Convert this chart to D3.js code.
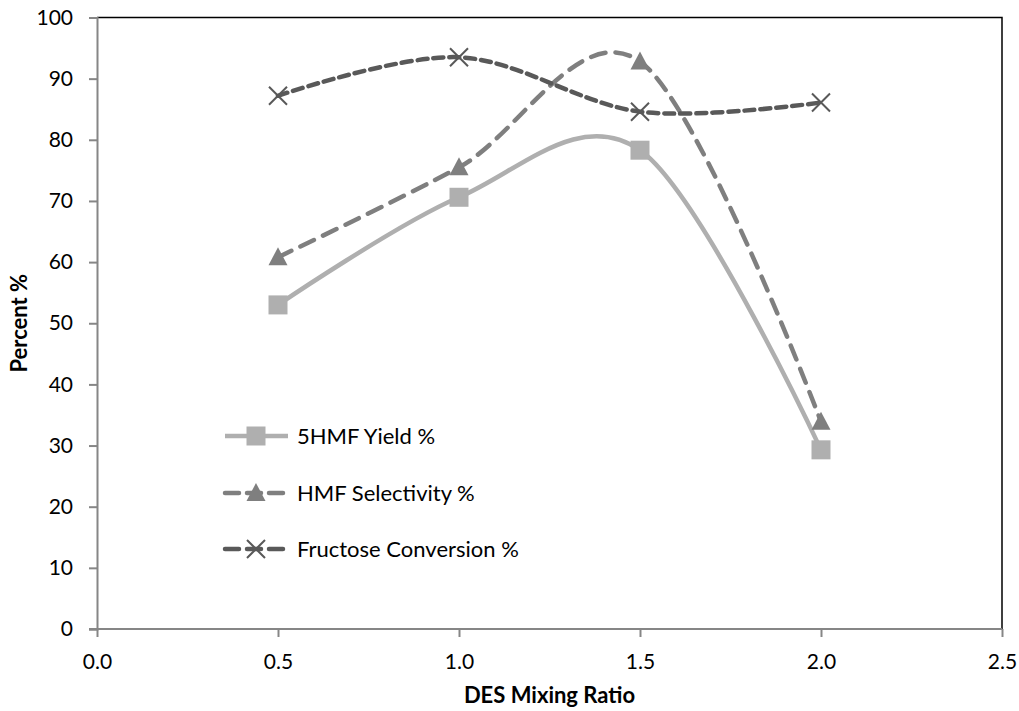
<!DOCTYPE html>
<html>
<head>
<meta charset="utf-8">
<script src="https://cdn.jsdelivr.net/npm/d3@7"></script>
<style>
  body { margin: 0; background: #fff; }
  text { font-family: Lato, "Open Sans", sans-serif; }
</style>
</head>
<body>
<div id="chart"></div>
<script>
// DES mixing ratio chart

const ratios = [0.5, 1.0, 1.5, 2.0];
const yieldVals = [53.0, 70.6, 78.3, 29.3];
const selectivityVals = [60.8, 75.5, 92.8, 33.9];
const conversionVals = [87.2, 93.5, 84.6, 86.1];
const seriesNames = ["5HMF Yield %", "HMF Selectivity %", "Fructose Conversion %"];
const xTicks = [0, 0.5, 1.0, 1.5, 2.0, 2.5];
const yTicks = [0, 10, 20, 30, 40, 50, 60, 70, 80, 90, 100];

const width = 1019,
      height = 711,
      margin = ({ top: 17.5, right: 17, bottom: 82, left: 97 });

const series = [
    { name: seriesNames[0], values: yieldVals, color: "#afafaf", dash: null, marker: "square" },
    { name: seriesNames[1], values: selectivityVals, color: "#7f7f7f", dash: "15,10", marker: "triangle" },
    { name: seriesNames[2], values: conversionVals, color: "#595959", dash: "10,6", marker: "x" }
];

let svg = d3.select("#chart")
    .append("svg")
    .attr("width", width)
    .attr("height", height);

let x = d3.scaleLinear()
    .domain([0, 2.5])
    .range([margin.left, width - margin.right]);

let y = d3.scaleLinear()
    .domain([0, 100])
    .range([height - margin.bottom, margin.top]);

// plot area border (top & right)
svg.append("path")
    .attr("d", `M${x(0)},${y(100)}H${x(2.5)}V${y(0)}`)
    .attr("fill", "none")
    .attr("stroke", "#000")
    .attr("stroke-width", 1.5);

// axes
let yAxis = svg.append("g")
    .attr("transform", `translate(${x(0)},0)`)
    .call(d3.axisLeft(y).tickValues(yTicks).tickSize(8).tickPadding(16).tickFormat(d3.format("d")));

let xAxis = svg.append("g")
    .attr("transform", `translate(0,${y(0)})`)
    .call(d3.axisBottom(x).tickValues(xTicks).tickSize(8).tickPadding(17).tickFormat(d3.format(".1f")));

[xAxis, yAxis].forEach(ax => {
    ax.select(".domain").attr("stroke", "#868686").attr("stroke-width", 2);
    ax.selectAll(".tick line").attr("stroke", "#868686").attr("stroke-width", 2);
    ax.selectAll(".tick text").attr("fill", "#000").style("font-size", "21px");
});
xAxis.select(".domain").attr("d", `M${x(0) - 8},0H${x(2.5)}`);

// axis titles
svg.append("text")
    .attr("x", (x(0) + x(2.5)) / 2)
    .attr("y", 703)
    .attr("text-anchor", "middle")
    .style("font-size", "22px")
    .style("font-weight", "bold")
    .text("DES Mixing Ratio");

svg.append("text")
    .attr("transform", `translate(27,${(y(0) + y(100)) / 2}) rotate(-90)`)
    .attr("text-anchor", "middle")
    .style("font-size", "22px")
    .style("font-weight", "bold")
    .text("Percent %");

const line = d3.line()
    .x(d => x(d[0]))
    .y(d => y(d[1]))
    .curve(d3.curveCardinal.tension(0));

function drawMarker(g, type, color, cx, cy) {
    if (type === "square") {
        g.append("rect")
            .attr("x", cx - 9.5).attr("y", cy - 9.5)
            .attr("width", 19).attr("height", 19)
            .attr("fill", color);
    } else if (type === "triangle") {
        g.append("path")
            .attr("d", `M${cx},${cy - 10}L${cx + 9.5},${cy + 8}L${cx - 9.5},${cy + 8}Z`)
            .attr("fill", color);
    } else {
        g.append("path")
            .attr("d", `M${cx - 9},${cy - 9}L${cx + 9},${cy + 9}M${cx - 9},${cy + 9}L${cx + 9},${cy - 9}`)
            .attr("stroke", color)
            .attr("stroke-width", 2);
    }
}

series.forEach(s => {
    const pts = ratios.map((r, i) => [r, s.values[i]]);
    let g = svg.append("g");
    g.append("path")
        .attr("d", line(pts))
        .attr("fill", "none")
        .attr("stroke", s.color)
        .attr("stroke-width", 4.5)
        .attr("stroke-linecap", s.dash ? "round" : "butt")
        .attr("stroke-dasharray", s.dash);
    pts.forEach(p => drawMarker(g, s.marker, s.color, x(p[0]), y(p[1])));
});

// legend
const legendY = [436, 493, 549];
series.forEach((s, i) => {
    let g = svg.append("g");
    g.append("line")
        .attr("x1", 225).attr("x2", 288)
        .attr("y1", legendY[i]).attr("y2", legendY[i])
        .attr("stroke", s.color)
        .attr("stroke-width", 4.5)
        .attr("stroke-linecap", s.dash ? "round" : "butt")
        .attr("stroke-dasharray", s.dash ? "14,8" : null);
    drawMarker(g, s.marker, s.color, 256, legendY[i]);
    g.append("text")
        .attr("x", 297)
        .attr("y", legendY[i])
        .attr("dy", "0.35em")
        .style("font-size", "22px")
        .text(s.name);
});
</script>
</body>
</html>
